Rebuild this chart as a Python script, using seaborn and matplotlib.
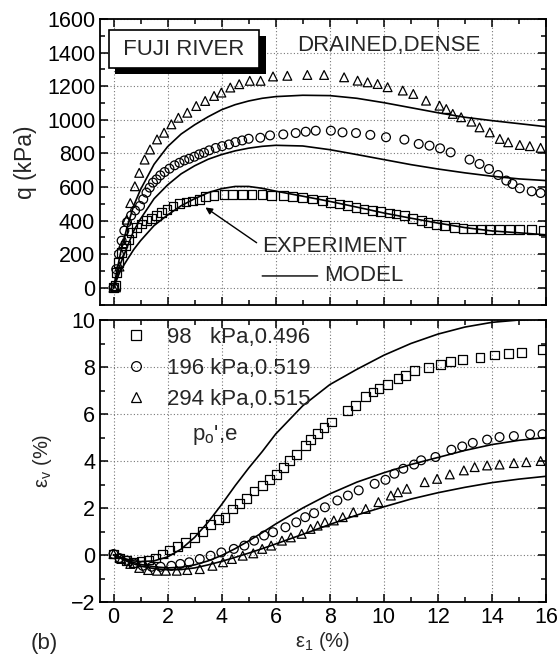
import numpy as np
import pandas as pd
import matplotlib
matplotlib.use("Agg")
import matplotlib.pyplot as plt
import matplotlib.patheffects as pe
from matplotlib.lines import Line2D
from matplotlib.ticker import MultipleLocator
import seaborn as sns

# ---- experiment: q (kPa) vs axial strain (%) ----
eps_q98 = [0.0, 0.06, 0.12, 0.18, 0.30, 0.43, 0.55, 0.67, 0.85, 1.04, 1.22, 1.40, 1.59, 1.77, 1.98, 2.20,
           2.44, 2.68, 2.93, 3.17, 3.41, 3.72, 4.09, 4.39, 4.76, 5.12, 5.49, 5.85, 6.28, 6.61, 6.99,
           7.36, 7.73, 8.04, 8.35, 8.66, 8.97, 9.27, 9.58, 9.89, 10.20, 10.45, 10.76, 11.07, 11.38,
           11.63, 11.94, 12.25, 12.62, 12.93, 13.24, 13.61, 13.92, 14.29, 14.66, 15.03, 15.45, 15.90]
q98 = [0, 12, 91, 150, 210, 250, 289, 329, 359, 379, 398, 412, 428, 447, 467, 487,
       503, 511, 517, 527, 541, 550, 556, 556, 556, 556, 556, 550, 548, 545, 538,
       528, 518, 508, 498, 489, 479, 469, 459, 453, 445, 439, 429, 413, 399,
       389, 375, 369, 359, 354, 350, 350, 346, 346, 346, 346, 345, 343]

eps_q196 = [0.0, 0.1, 0.2, 0.3, 0.4, 0.5, 0.65, 0.8, 0.98, 1.10, 1.22, 1.34, 1.46, 1.59, 1.73, 1.89,
            2.07, 2.26, 2.44, 2.62, 2.80, 2.99, 3.17, 3.35, 3.54, 3.78, 4.02, 4.27, 4.51, 4.76, 5.00,
            5.43, 5.79, 6.28, 6.74, 7.11, 7.48, 8.04, 8.47, 8.97, 9.50, 10.08, 10.76, 11.29, 11.69,
            12.08, 12.47, 13.17, 13.54, 13.89, 14.23, 14.53, 14.76, 15.03, 15.47, 15.80]
q196 = [0, 110, 200, 280, 340, 390, 430, 460, 487, 527, 566, 596, 626, 645, 669, 689,
        709, 729, 744, 758, 768, 780, 794, 804, 818, 832, 843, 853, 867, 877, 887,
        893, 907, 913, 921, 929, 935, 935, 925, 921, 910, 896, 882, 856, 846,
        830, 806, 763, 737, 707, 671, 638, 618, 592, 574, 564]

eps_q294 = [0.0, 0.09, 0.22, 0.36, 0.49, 0.62, 0.79, 0.95, 1.15, 1.35, 1.61, 1.87, 2.14, 2.40, 2.73, 3.06,
            3.39, 3.72, 3.99, 4.32, 4.65, 5.04, 5.44, 5.90, 6.43, 7.17, 7.79, 8.53, 9.03, 9.40,
            9.77, 10.14, 10.70, 11.09, 11.56, 12.06, 12.31, 12.55, 12.86, 13.24, 13.54, 13.92,
            14.29, 14.60, 15.03, 15.40, 15.80]
q294 = [0, 2, 126, 265, 405, 504, 604, 684, 763, 823, 883, 923, 973, 1012, 1042, 1082,
        1112, 1142, 1162, 1192, 1212, 1232, 1232, 1258, 1262, 1267, 1267, 1253, 1233, 1223,
        1213, 1194, 1174, 1154, 1114, 1084, 1064, 1035, 1015, 989, 955, 925,
        886, 866, 850, 843, 833]

# ---- experiment: volumetric strain (%) ----
eps_v98 = [0.0, 0.22, 0.49, 0.75, 1.02, 1.28, 1.54, 1.81, 2.07, 2.36, 2.67, 3.00, 3.30, 3.59, 3.88,
           4.12, 4.41, 4.67, 4.91, 5.20, 5.50, 5.77, 6.03, 6.30, 6.50, 6.76, 7.09, 7.29, 7.55, 7.79,
           8.05, 8.67, 8.94, 9.33, 9.60, 9.82, 10.13, 10.52, 10.79, 11.12, 11.64, 12.11, 12.46,
           12.90, 13.56, 14.09, 14.61, 15.08, 15.87]
ev98 = [0.04, -0.13, -0.24, -0.31, -0.27, -0.21, -0.13, 0.04, 0.21, 0.36, 0.54, 0.75, 1.00, 1.29, 1.51,
        1.61, 1.96, 2.18, 2.39, 2.72, 2.96, 3.20, 3.43, 3.74, 4.03, 4.27, 4.67, 4.91, 5.16, 5.42,
        5.66, 6.16, 6.37, 6.73, 6.94, 7.08, 7.27, 7.51, 7.65, 7.84, 7.98, 8.12, 8.22,
        8.32, 8.41, 8.51, 8.58, 8.62, 8.75]

eps_v196 = [0.0, 0.22, 0.49, 0.75, 1.08, 1.41, 1.74, 2.14, 2.47, 2.80, 3.19, 3.59, 3.99, 4.45, 4.84,
            5.20, 5.57, 5.90, 6.36, 6.76, 7.09, 7.42, 7.82, 8.28, 8.67, 9.07, 9.66, 10.06, 10.39,
            10.72, 11.12, 11.38, 11.91, 12.50, 12.90, 13.29, 13.82, 14.28, 14.81, 15.41, 15.87]
ev196 = [0.04, -0.13, -0.24, -0.36, -0.46, -0.50, -0.50, -0.46, -0.38, -0.31, -0.17, -0.03, 0.11, 0.26, 0.40,
         0.61, 0.83, 0.97, 1.18, 1.39, 1.61, 1.78, 2.03, 2.32, 2.53, 2.75, 3.03, 3.20, 3.46,
         3.67, 3.85, 4.03, 4.17, 4.48, 4.62, 4.77, 4.91, 5.02, 5.06, 5.14, 5.14]

eps_v294 = [0.0, 0.29, 0.62, 0.95, 1.28, 1.61, 1.94, 2.34, 2.73, 3.19, 3.66, 4.05, 4.38, 4.78, 5.17,
            5.50, 5.83, 6.23, 6.56, 6.96, 7.29, 7.55, 7.82, 8.15, 8.48, 8.87, 9.33, 9.80, 10.26,
            10.52, 10.85, 11.51, 11.97, 12.44, 12.96, 13.36, 13.82, 14.28, 14.81, 15.27, 15.80]
ev294 = [0.04, -0.17, -0.38, -0.55, -0.64, -0.67, -0.67, -0.67, -0.64, -0.60, -0.46, -0.31, -0.17, -0.03, 0.07,
         0.26, 0.40, 0.61, 0.75, 0.90, 1.11, 1.25, 1.39, 1.47, 1.61, 1.82, 1.96, 2.25, 2.53,
         2.67, 2.82, 3.10, 3.24, 3.43, 3.60, 3.74, 3.81, 3.85, 3.91, 3.95, 4.00]

# ---- model curves ----
eps_model = [0, 0.1, 0.25, 0.5, 0.75, 1, 1.5, 2, 2.5, 3, 3.5, 4, 4.5, 5, 5.5, 6,
             7, 8, 9, 10, 11, 12, 13, 14, 15, 16]
q_model98 = [0, 40, 100, 165, 228, 280, 370, 433, 488, 530, 566, 590, 603, 603, 592, 575,
             545, 514, 480, 445, 414, 385, 358, 338, 327, 315]
q_model196 = [0, 55, 140, 240, 340, 410, 530, 612, 678, 726, 765, 793, 815, 831, 842, 848,
              844, 822, 793, 763, 733, 707, 684, 664, 648, 638]
q_model294 = [0, 80, 200, 360, 490, 585, 735, 840, 915, 970, 1018, 1060, 1090, 1112, 1128, 1138,
              1146, 1144, 1128, 1102, 1072, 1042, 1015, 995, 977, 959]
ev_model98 = [0, -0.05, -0.1, -0.18, -0.25, -0.28, -0.25, -0.08, 0.25, 0.75, 1.4, 2.15, 2.95, 3.7, 4.4, 5.15,
              6.35, 7.25, 7.9, 8.5, 9.0, 9.4, 9.7, 9.9, 10.0, 10.05]
ev_model196 = [0, -0.05, -0.12, -0.22, -0.32, -0.4, -0.5, -0.55, -0.52, -0.42, -0.25, -0.02, 0.27, 0.6, 0.95, 1.32,
               2.0, 2.6, 3.1, 3.5, 3.85, 4.15, 4.45, 4.7, 4.88, 5.0]
ev_model294 = [0, -0.05, -0.13, -0.27, -0.38, -0.47, -0.58, -0.63, -0.62, -0.55, -0.42, -0.27, -0.1, 0.08, 0.27, 0.47,
               0.88, 1.3, 1.7, 2.05, 2.38, 2.65, 2.88, 3.08, 3.23, 3.35]

labels = ["98   kPa,0.496", "196 kPa,0.519", "294 kPa,0.515"]
markers = ["s", "o", "^"]

sns.set_style("ticks")
plt.rcParams["font.family"] = ["Liberation Sans", "DejaVu Sans"]
plt.rcParams["mathtext.fontset"] = "custom"
plt.rcParams["mathtext.rm"] = "Liberation Sans"
plt.rcParams["mathtext.it"] = "Liberation Sans:italic"

FS = 16       # annotation / legend text
TS = 15.5     # tick labels

fig = plt.figure(figsize=(5.59, 6.54), dpi=100)
ax1 = fig.add_axes([0.1789, 0.5344, 0.7979, 0.4365])
ax2 = fig.add_axes([0.1789, 0.0795, 0.7979, 0.4312])

q_exp = [(eps_q98, q98), (eps_q196, q196), (eps_q294, q294)]
v_exp = [(eps_v98, ev98), (eps_v196, ev196), (eps_v294, ev294)]

for (ex, qy), (vx, vy), m in zip(q_exp, v_exp, markers):
    sns.scatterplot(x=ex, y=qy, ax=ax1, marker=m, s=40, facecolor="none",
                    edgecolor="black", linewidth=0.9, zorder=3)
    sns.scatterplot(x=vx, y=vy, ax=ax2, marker=m, s=40, facecolor="none",
                    edgecolor="black", linewidth=0.9, zorder=3)

for qm in [q_model98, q_model196, q_model294]:
    sns.lineplot(x=eps_model, y=qm, ax=ax1, color="black", lw=1.2, zorder=4)
for vm in [ev_model98, ev_model196, ev_model294]:
    sns.lineplot(x=eps_model, y=vm, ax=ax2, color="black", lw=1.2, zorder=4)

for ax in (ax1, ax2):
    ax.set_xlim(-0.5, 16)
    ax.xaxis.set_major_locator(MultipleLocator(2))
    ax.xaxis.set_minor_locator(MultipleLocator(1))
    ax.tick_params(which="both", direction="in", top=True, right=True, width=1.1,
                   labelsize=TS, colors="black")
    ax.tick_params(which="major", length=6)
    ax.tick_params(which="minor", length=3.5)
    ax.grid(True, which="major", ls=(0, (1, 2)), color="#777777", lw=0.8)
    ax.set_axisbelow(True)
    for sp in ax.spines.values():
        sp.set_linewidth(1.3)
        sp.set_color("black")

ax1.set_ylim(-100, 1600)
ax1.yaxis.set_major_locator(MultipleLocator(200))
ax1.yaxis.set_minor_locator(MultipleLocator(100))
ax1.tick_params(labelbottom=False)
ax1.set_ylabel("q (kPa)", fontsize=16.5)
ax1.yaxis.set_label_coords(-0.141, 0.5)

ax2.set_ylim(-2, 10)
ax2.yaxis.set_major_locator(MultipleLocator(2))
ax2.yaxis.set_minor_locator(MultipleLocator(1))
ax2.set_ylabel("ε$_\\mathrm{v}$ (%)", fontsize=14.5)
ax2.yaxis.set_label_coords(-0.103, 0.5)
ax2.set_xlabel("ε$_\\mathrm{1}$ (%)", fontsize=14.5)
ax2.xaxis.set_label_coords(0.5, -0.1)

# annotations in the q panel
t = ax1.text(2.61, 1421, " FUJI RIVER ", fontsize=FS, ha="center", va="center", zorder=6,
             bbox=dict(boxstyle="square,pad=0.38", fc="white", ec="black", lw=1.2))
t.get_bbox_patch().set_path_effects([
    pe.SimplePatchShadow(offset=(4.5, -4.5), shadow_rgbFace="black", alpha=1.0),
    pe.Normal()])
ax1.text(6.8, 1440, "DRAINED,DENSE", fontsize=FS, ha="left", va="center")
ax1.annotate("EXPERIMENT", xy=(3.4, 478), xytext=(5.5, 245), fontsize=FS, ha="left", va="center",
             arrowprops=dict(arrowstyle="-|>", color="black", lw=1.0, mutation_scale=10,
                             shrinkA=2, shrinkB=0, relpos=(0, 0.5)), zorder=6)
ax1.annotate("", xy=(5.5, 70), xytext=(7.55, 70),
             arrowprops=dict(arrowstyle="-", color="black", lw=1.0, shrinkA=0, shrinkB=0))
ax1.text(7.8, 70, "MODEL", fontsize=FS, ha="left", va="center")

# legend in the strain panel
handles = [Line2D([], [], ls="none", marker=m, ms=7, mfc="none", mec="black", mew=0.9)
           for m in markers]
ax2.legend(handles, labels, loc="upper left", bbox_to_anchor=(0.056, 0.975), frameon=False,
           fontsize=FS, handlelength=1.0, handletextpad=0.9, borderpad=0, borderaxespad=0,
           labelspacing=0.45)
ax2.text(3.76, 5.12, "p$_\\mathrm{o}$',e", fontsize=FS, ha="center", va="center")

fig.text(0.055, 0.016, "(b)", fontsize=FS, ha="left", va="center")

fig.savefig("out.png", dpi=100)
